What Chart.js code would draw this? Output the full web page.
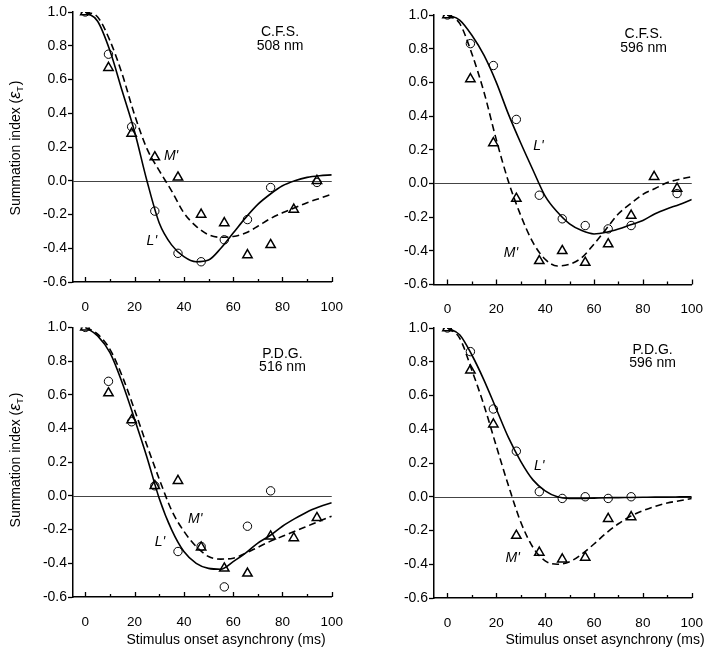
<!DOCTYPE html>
<html><head><meta charset="utf-8">
<script src="https://cdn.jsdelivr.net/npm/chart.js@4.4.0/dist/chart.umd.min.js"></script>
<style>
html,body{margin:0;padding:0;background:#fff;}
#wrap{position:relative;width:720px;height:658px;overflow:hidden;background:#fff;}
canvas{position:absolute;}
</style></head><body><div id="wrap">
<canvas id="c1" width="360" height="318" style="left:0;top:0"></canvas>
<canvas id="c2" width="360" height="318" style="left:360px;top:0"></canvas>
<canvas id="c3" width="360" height="340" style="left:0;top:318px"></canvas>
<canvas id="c4" width="360" height="340" style="left:360px;top:318px"></canvas>
</div>
<script>
// ---------- data ----------
const soaX = [0, 9.4, 18.8, 28.2, 37.6, 47, 56.4, 65.8, 75.2, 84.6, 94];
const curveX = [0, 5, 10, 15, 20, 25, 30, 35, 40, 45, 50, 55, 60, 65, 70, 75, 80, 85, 90, 95, 100];
const xTicks = [0, 20, 40, 60, 80, 100];
const xMinorTicks = [10, 30, 50, 70, 90];
const yTicks = [-0.6, -0.4, -0.2, 0.0, 0.2, 0.4, 0.6, 0.8, 1.0];

// C.F.S. 508 nm
const cfs508_Lpts = [1.0, 0.75, 0.32, -0.18, -0.43, -0.48, -0.35, -0.23, -0.04, null, -0.01];
const cfs508_Mpts = [1.0, 0.67, 0.28, 0.14, 0.02, -0.20, -0.25, -0.44, -0.38, -0.17, 0.0];
const cfs508_Lfit = [1.0, 0.945, 0.77, 0.53, 0.29, 0.0, -0.25, -0.38, -0.45, -0.48, -0.47, -0.40, -0.31, -0.22, -0.14, -0.08, -0.03, 0.0, 0.02, 0.03, 0.035];
const cfs508_Mfit = [1.0, 0.97, 0.83, 0.63, 0.39, 0.19, 0.06, -0.06, -0.19, -0.27, -0.32, -0.335, -0.33, -0.31, -0.27, -0.225, -0.19, -0.16, -0.13, -0.105, -0.08];

// C.F.S. 596 nm
const cfs596_Lpts = [1.0, 0.83, 0.70, 0.38, -0.07, -0.21, -0.25, -0.27, -0.25, null, -0.06];
const cfs596_Mpts = [1.0, 0.62, 0.24, -0.09, -0.46, -0.40, -0.47, -0.36, -0.19, 0.04, -0.03];
const cfs596_Lfit = [1.0, 0.97, 0.88, 0.76, 0.60, 0.41, 0.24, 0.08, -0.075, -0.17, -0.24, -0.28, -0.30, -0.29, -0.27, -0.245, -0.22, -0.18, -0.15, -0.125, -0.095];
const cfs596_Mfit = [1.0, 0.95, 0.77, 0.54, 0.26, 0.01, -0.19, -0.35, -0.45, -0.49, -0.48, -0.44, -0.36, -0.27, -0.18, -0.12, -0.065, -0.03, 0.005, 0.025, 0.04];

// P.D.G. 516 nm
const pdg516_Lpts = [1.0, 0.68, 0.44, 0.06, -0.33, -0.30, -0.54, -0.18, 0.03, null, null];
const pdg516_Mpts = [1.0, 0.61, 0.45, 0.06, 0.09, -0.305, -0.43, -0.46, -0.24, -0.25, -0.13];
const pdg516_Lfit = [1.0, 0.95, 0.85, 0.67, 0.455, 0.23, -0.015, -0.20, -0.33, -0.40, -0.43, -0.435, -0.39, -0.34, -0.28, -0.235, -0.18, -0.135, -0.095, -0.065, -0.04];
const pdg516_Mfit = [1.0, 0.96, 0.87, 0.71, 0.51, 0.30, 0.10, -0.085, -0.21, -0.30, -0.36, -0.375, -0.37, -0.34, -0.305, -0.27, -0.24, -0.21, -0.18, -0.15, -0.12];

// P.D.G. 596 nm
const pdg596_Lpts = [1.0, 0.86, 0.52, 0.27, 0.03, -0.01, 0.0, -0.01, 0.0, null, null];
const pdg596_Mpts = [1.0, 0.75, 0.43, -0.23, -0.33, -0.37, -0.36, -0.13, -0.12, null, null];
const pdg596_Lfit = [1.0, 0.96, 0.84, 0.69, 0.52, 0.35, 0.21, 0.10, 0.035, 0.0, -0.01, -0.01, -0.008, -0.006, -0.005, -0.004, -0.003, -0.002, -0.002, -0.001, 0.0];
const pdg596_Mfit = [1.0, 0.94, 0.75, 0.54, 0.30, 0.065, -0.15, -0.30, -0.38, -0.40, -0.385, -0.34, -0.28, -0.215, -0.16, -0.115, -0.083, -0.057, -0.037, -0.024, -0.01];

const yTitleText = 'Summation index (';
const xTitleText = 'Stimulus onset asynchrony (ms)';

// ---------- drawing ----------
const FONT = '"Liberation Sans", Arial, Helvetica, sans-serif';

function pts(xs, ys) {
  const out = [];
  xs.forEach((x, i) => { if (ys[i] !== null && ys[i] !== undefined) out.push({x: x, y: ys[i]}); });
  return out;
}

function drawYTitle(ctx, bx, cy) {
  ctx.save();
  ctx.translate(bx, cy);
  ctx.rotate(-Math.PI / 2);
  ctx.fillStyle = '#000';
  ctx.textBaseline = 'alphabetic';
  ctx.textAlign = 'left';
  const f1 = '14px ' + FONT, f2 = 'italic 16px ' + FONT, f3 = '9px ' + FONT;
  ctx.font = f1; const w1 = ctx.measureText(yTitleText).width;
  ctx.font = f2; const w2 = ctx.measureText('\u03B5').width;
  ctx.font = f3; const w3 = ctx.measureText('T').width;
  ctx.font = f1; const w4 = ctx.measureText(')').width;
  let x = -(w1 + w2 + w3 + w4 + 1) / 2;
  ctx.font = f1; ctx.fillText(yTitleText, x, 0); x += w1;
  ctx.font = f2; ctx.fillText('\u03B5', x, 0); x += w2;
  ctx.font = f3; ctx.fillText('T', x, 3); x += w3 + 1;
  ctx.font = f1; ctx.fillText(')', x, 0);
  ctx.restore();
}

function makePanel(cfg) {
  const canvas = document.getElementById(cfg.id);
  const cw = canvas.width, ch = canvas.height;
  const deco = {
    id: 'deco',
    beforeDatasetsDraw(chart) {
      const {ctx, chartArea, scales} = chart;
      const y0 = scales.y.getPixelForValue(0);
      ctx.save();
      ctx.strokeStyle = '#444'; ctx.lineWidth = 1;
      ctx.beginPath();
      ctx.moveTo(chartArea.left, Math.round(y0) + 0.5);
      ctx.lineTo(scales.x.getPixelForValue(100), Math.round(y0) + 0.5);
      ctx.stroke();
      ctx.restore();
    },
    afterDraw(chart) {
      const {ctx, chartArea, scales} = chart;
      const b = chartArea.bottom;
      ctx.save();
      ctx.strokeStyle = '#000'; ctx.lineWidth = 1.3;
      ctx.beginPath();
      xTicks.forEach(v => { const px = Math.round(scales.x.getPixelForValue(v)) + 0.5; ctx.moveTo(px, b); ctx.lineTo(px, b - 5); });
      xMinorTicks.forEach(v => { const px = Math.round(scales.x.getPixelForValue(v)) + 0.5; ctx.moveTo(px, b); ctx.lineTo(px, b - 3); });
      ctx.stroke();
      ctx.fillStyle = '#000';
      ctx.textAlign = 'center'; ctx.textBaseline = 'middle';
      ctx.font = '14px ' + FONT;
      ctx.fillText(cfg.name, scales.x.getPixelForValue(cfg.nameAt[0]), scales.y.getPixelForValue(cfg.nameAt[1]));
      ctx.fillText(cfg.wave, scales.x.getPixelForValue(cfg.nameAt[0]), scales.y.getPixelForValue(cfg.nameAt[2]));
      ctx.font = 'italic 14px ' + FONT;
      ctx.fillText("L'", scales.x.getPixelForValue(cfg.Lat[0]), scales.y.getPixelForValue(cfg.Lat[1]));
      ctx.fillText("M'", scales.x.getPixelForValue(cfg.Mat[0]), scales.y.getPixelForValue(cfg.Mat[1]));
      if (cfg.yTitle) drawYTitle(ctx, cfg.yTitle[0], cfg.yTitle[1]);
      if (cfg.xTitle) {
        ctx.font = '14px ' + FONT; ctx.textAlign = 'center'; ctx.textBaseline = 'middle';
        ctx.fillText(xTitleText, cfg.xTitle[0], cfg.xTitle[1]);
      }
      ctx.restore();
    }
  };
  return new Chart(canvas, {
    type: 'scatter',
    data: {
      datasets: [
        { data: pts(soaX, cfg.Lpts), showLine: false, pointStyle: 'circle', pointRadius: 4.2, pointBorderWidth: 1,
          borderColor: '#000', backgroundColor: 'rgba(0,0,0,0)', pointBackgroundColor: 'rgba(0,0,0,0)', pointBorderColor: '#000' },
        { data: pts(soaX, cfg.Mpts), showLine: false, pointStyle: 'triangle', pointRadius: 5.4, pointBorderWidth: 1.5,
          borderColor: '#000', backgroundColor: 'rgba(0,0,0,0)', pointBackgroundColor: 'rgba(0,0,0,0)', pointBorderColor: '#000' },
        { data: pts(curveX, cfg.Lfit), showLine: true, pointRadius: 0, borderColor: '#000', borderWidth: 1.6,
          cubicInterpolationMode: 'monotone', fill: false },
        { data: pts(curveX, cfg.Mfit), showLine: true, pointRadius: 0, borderColor: '#000', borderWidth: 1.6,
          borderDash: [7, 4], cubicInterpolationMode: 'monotone', fill: false }
      ]
    },
    options: {
      responsive: false, animation: false, devicePixelRatio: 1,
      layout: { padding: { left: 0, top: cfg.area.top, right: cw - cfg.area.right, bottom: 0 } },
      plugins: { legend: { display: false }, tooltip: { enabled: false }, title: { display: false } },
      scales: {
        x: {
          type: 'linear', min: cfg.xMin, max: 100,
          afterFit: s => { s.height = ch - cfg.area.bottom; },
          afterBuildTicks: s => { s.ticks = xTicks.map(v => ({value: v})); },
          grid: { display: true, drawOnChartArea: false, drawTicks: false },
          border: { display: true, color: '#000', width: 1.5 },
          ticks: { color: '#000', font: { family: FONT, size: 13.5 }, padding: 17, maxRotation: 0,
                   callback: v => String(v) }
        },
        y: {
          type: 'linear', min: -0.6, max: 1.0,
          afterFit: s => { s.width = cfg.area.left; },
          afterBuildTicks: s => { s.ticks = yTicks.map(v => ({value: v})); },
          grid: { display: true, drawOnChartArea: false, drawTicks: true, tickLength: 5, tickWidth: 1.3, tickColor: '#000' },
          border: { display: true, color: '#000', width: 1.5 },
          ticks: { color: '#000', font: { family: FONT, size: 14 }, padding: 1,
                   callback: v => Number(v).toFixed(1) }
        }
      }
    },
    plugins: [deco]
  });
}

makePanel({ id: 'c1', area: {left: 73, top: 12, right: 342, bottom: 282}, xMin: -5,
  Lpts: cfs508_Lpts, Mpts: cfs508_Mpts, Lfit: cfs508_Lfit, Mfit: cfs508_Mfit,
  name: 'C.F.S.', wave: '508 nm', nameAt: [79, 0.88, 0.80], Lat: [27, -0.357], Mat: [34.8, 0.147],
  yTitle: [20, 148] });
makePanel({ id: 'c2', area: {left: 74, top: 15, right: 342, bottom: 284.5}, xMin: -5.5,
  Lpts: cfs596_Lpts, Mpts: cfs596_Mpts, Lfit: cfs596_Lfit, Mfit: cfs596_Mfit,
  name: 'C.F.S.', wave: '596 nm', nameAt: [80.3, 0.885, 0.805], Lat: [37.3, 0.222], Mat: [26, -0.415] });
makePanel({ id: 'c3', area: {left: 73, top: 8, right: 342, bottom: 279}, xMin: -5,
  Lpts: pdg516_Lpts, Mpts: pdg516_Mpts, Lfit: pdg516_Lfit, Mfit: pdg516_Mfit,
  name: 'P.D.G.', wave: '516 nm', nameAt: [80, 0.842, 0.764], Lat: [30.3, -0.273], Mat: [44.6, -0.135],
  yTitle: [20, 142], xTitle: [226, 322] });
makePanel({ id: 'c4', area: {left: 74, top: 10, right: 343, bottom: 280}, xMin: -5.5,
  Lpts: pdg596_Lpts, Mpts: pdg596_Mpts, Lfit: pdg596_Lfit, Mfit: pdg596_Mfit,
  name: 'P.D.G.', wave: '596 nm', nameAt: [84, 0.870, 0.791], Lat: [37.6, 0.182], Mat: [26.7, -0.365],
  xTitle: [245, 322] });
</script>
</body></html>
